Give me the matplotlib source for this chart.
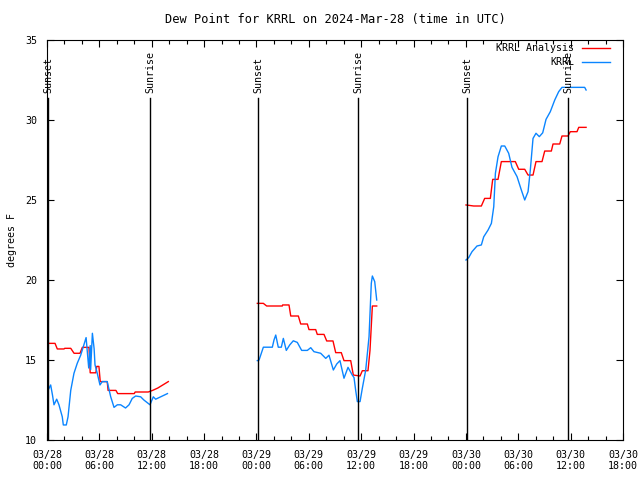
import matplotlib
matplotlib.use("Agg")
import matplotlib.pyplot as plt
import numpy as np

plt.rcParams['font.family'] = 'DejaVu Sans Mono'
plt.rcParams['font.size'] = 7.2

# hours since 03/28 00:00 UTC
ana1_t = [0.0, 0.92, 1.18, 1.95, 2.03, 2.72, 3.1, 3.78, 4.05, 4.81, 4.95, 5.6, 5.7, 5.95, 6.1, 6.9,
          7.0, 7.9, 8.1, 10.0, 10.1, 11.6, 12.1, 12.7, 13.9]
ana1_v = [16.04, 16.04, 15.69, 15.69, 15.73, 15.73, 15.42, 15.42, 15.79, 15.79, 14.2, 14.2, 14.6, 14.6,
          13.65, 13.65, 13.1, 13.1, 12.9, 12.9, 13.0, 13.0, 13.1, 13.25, 13.65]
ana2_t = [24.1, 24.79, 25.17, 26.96, 27.0, 27.73, 27.93, 28.8, 29.07, 29.83, 30.02, 30.79, 30.97, 31.74,
          32.05, 32.77, 33.08, 33.72, 34.03, 34.8, 35.1, 35.87, 36.13, 36.78, 37.01, 37.28, 37.78]
ana2_v = [18.54, 18.54, 18.375, 18.375, 18.44, 18.44, 17.75, 17.75, 17.25, 17.25, 16.9, 16.9, 16.6, 16.6,
          16.19, 16.19, 15.46, 15.46, 14.96, 14.96, 14.06, 14.0, 14.33, 14.33, 15.6, 18.375, 18.375]
ana3_t = [48.01, 48.89, 49.77, 50.15, 50.8, 51.07, 51.68, 52.06, 53.66, 54.05, 54.74, 55.12, 55.69,
          56.03, 56.72, 57.03, 57.79, 57.98, 58.75, 59.01, 59.7, 59.96, 60.73, 60.93, 61.77]
ana3_v = [24.69, 24.625, 24.625, 25.1, 25.1, 26.29, 26.29, 27.4, 27.4, 26.92, 26.92, 26.56, 26.56,
          27.4, 27.4, 28.06, 28.06, 28.5, 28.5, 29.0, 29.0, 29.27, 29.27, 29.54, 29.54]

obs1_t = [0.11, 0.42, 0.63, 0.8, 1.11, 1.37, 1.75, 1.87, 2.21, 2.41, 2.72, 3.09, 3.47, 3.86, 4.16, 4.48,
          4.78, 4.95, 5.0, 5.2, 5.4, 5.5, 5.76, 6.07, 6.33, 6.9, 7.3, 7.68, 8.06, 8.44, 9.0, 9.4, 9.77,
          10.16, 10.73, 11.1, 11.8, 12.18, 12.45, 13.03, 13.8]
obs1_v = [13.1, 13.44, 12.8, 12.2, 12.55, 12.2, 11.45, 10.94, 10.94, 11.45, 13.1, 14.17, 14.8, 15.3,
          15.83, 16.4, 14.5, 15.9, 14.4, 16.67, 15.7, 14.7, 14.17, 13.44, 13.65, 13.65, 12.7, 12.04,
          12.2, 12.2, 12.0, 12.2, 12.6, 12.75, 12.7, 12.5, 12.2, 12.7, 12.55, 12.7, 12.9]
obs2_t = [24.1, 24.3, 24.79, 25.82, 26.01, 26.21, 26.5, 26.85, 27.08, 27.42, 27.81, 28.22, 28.68, 29.18,
          29.83, 30.22, 30.59, 31.36, 31.94, 32.31, 32.81, 33.2, 33.57, 34.03, 34.49, 34.98, 35.18,
          35.37, 35.56, 35.87, 36.13, 36.52, 36.9, 37.16, 37.28, 37.55, 37.78]
obs2_v = [14.96, 15.0, 15.8, 15.8, 16.25, 16.56, 15.8, 15.8, 16.35, 15.6, 15.94, 16.2, 16.1, 15.6,
          15.6, 15.77, 15.52, 15.42, 15.1, 15.3, 14.375, 14.75, 14.96, 13.86, 14.54, 14.06, 13.9,
          13.1, 12.4, 12.4, 13.23, 14.375, 16.46, 19.79, 20.25, 19.9, 18.75]
obs3_t = [48.01, 48.32, 48.7, 49.27, 49.77, 50.04, 50.54, 50.92, 51.19, 51.38, 51.68, 52.06, 52.45,
          52.9, 53.28, 53.86, 54.35, 54.74, 55.12, 55.38, 55.69, 56.03, 56.41, 56.8, 57.18, 57.67,
          58.18, 58.63, 59.01, 61.61, 61.77]
obs3_v = [21.25, 21.4, 21.77, 22.125, 22.19, 22.7, 23.125, 23.54, 24.58, 26.67, 27.7, 28.375, 28.375,
          27.92, 27.04, 26.46, 25.625, 25.0, 25.52, 26.875, 28.85, 29.17, 28.96, 29.2, 30.04, 30.52,
          31.25, 31.77, 32.04, 32.04, 31.875]

sunset_t = [0.11, 24.18, 48.13]
sunrise_t = [11.8, 35.64, 59.7]

tick_hours = np.arange(0, 67, 6)
tick_labels = ['03/28\n00:00', '03/28\n06:00', '03/28\n12:00', '03/28\n18:00',
               '03/29\n00:00', '03/29\n06:00', '03/29\n12:00', '03/29\n18:00',
               '03/30\n00:00', '03/30\n06:00', '03/30\n12:00', '03/30\n18:00']

red = '#ff0000'
blue = '#0a85ff'

fig = plt.figure(figsize=(6.4, 4.8), dpi=100)
ax = fig.add_axes([47 / 640, 40 / 480, 576 / 640, 400 / 480])

for t, v in [(ana1_t, ana1_v), (ana2_t, ana2_v), (ana3_t, ana3_v)]:
    ax.plot(t, v, color=red, lw=1)
for t, v in [(obs1_t, obs1_v), (obs2_t, obs2_v), (obs3_t, obs3_v)]:
    ax.plot(t, v, color=blue, lw=1)

for name, times in [('Sunset', sunset_t), ('Sunrise', sunrise_t)]:
    for t in times:
        ax.plot([t, t], [10, 31.4], color='black', lw=1)
        ax.text(t, 31.7, name, rotation=90, ha='center', va='bottom')

ax.set_xlim(0, 66)
ax.set_ylim(10, 35)
ax.set_xticks(tick_hours)
ax.set_xticklabels(tick_labels)
ax.set_xticks(np.arange(0, 67, 2), minor=True)
ax.set_yticks(np.arange(10, 36, 5))
ax.tick_params(which='both', direction='in', top=True, right=True, length=5, width=0.8)
ax.tick_params(which='minor', length=3)
ax.tick_params(axis='x', pad=7)
ax.tick_params(axis='y', pad=7)
ax.set_ylabel('degrees F')
ax.yaxis.set_label_coords(-0.052, 0.5)
ax.set_title('Dew Point for KRRL on 2024-Mar-28 (time in UTC)', pad=12)

# legend drawn gnuplot-style
ax.text(0.915, 0.98, 'KRRL Analysis', transform=ax.transAxes, ha='right', va='center')
ax.plot([0.929, 0.977], [0.98, 0.98], color=red, lw=1, transform=ax.transAxes, clip_on=False)
ax.text(0.915, 0.945, 'KRRL', transform=ax.transAxes, ha='right', va='center')
ax.plot([0.929, 0.977], [0.945, 0.945], color=blue, lw=1, transform=ax.transAxes, clip_on=False)

fig.savefig('out.png', dpi=100)
